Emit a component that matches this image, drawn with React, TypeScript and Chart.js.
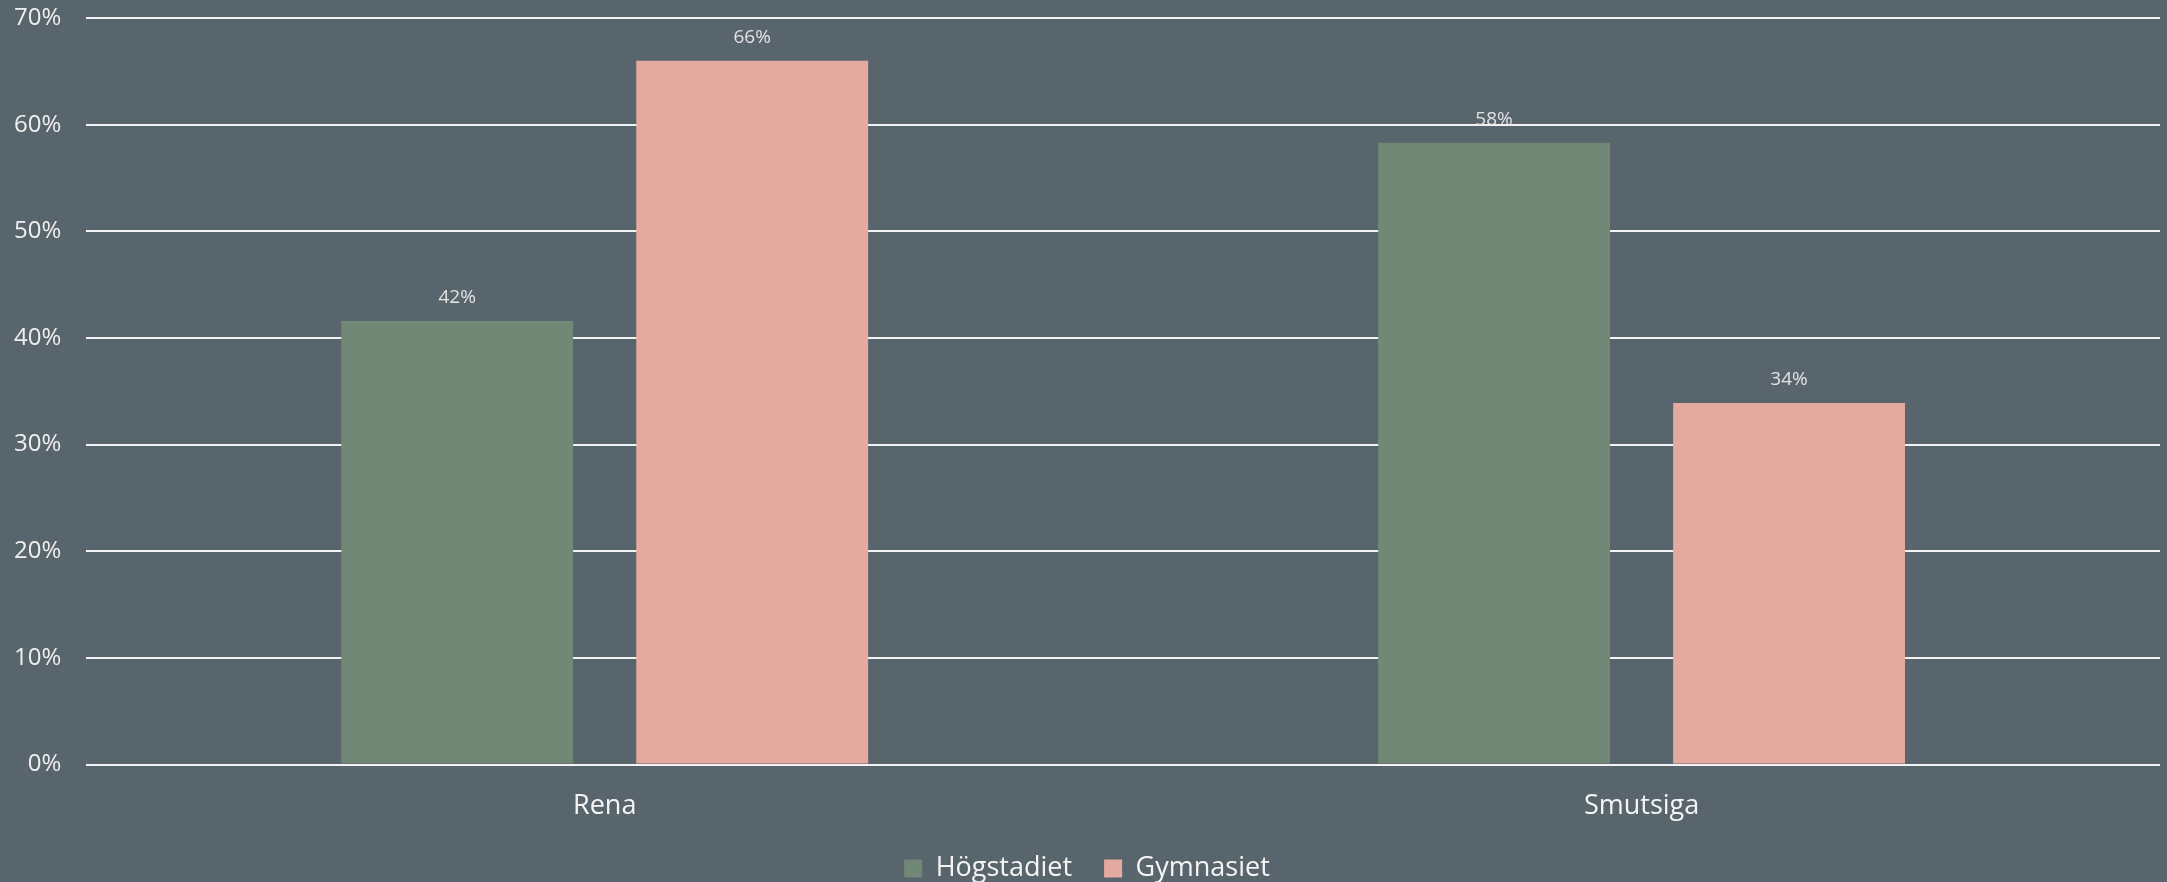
import React, { useEffect, useRef } from 'react';
import { Chart, registerables } from 'chart.js';

Chart.register(...registerables);

const categories = ['Rena', 'Smutsiga'];
const seriesNames = ['Högstadiet', 'Gymnasiet'];
const hogstadiet = [41.6, 58.3];
const gymnasiet = [66.0, 33.9];
const yMin = 0;
const yMax = 70;
const yStep = 10;

const BG = '#59656d';
const GREEN = '#718877';
const PINK = '#e4aa9f';
const FONT = "'Open Sans', sans-serif";

const dataLabelPlugin = {
  id: 'dataLabels',
  afterDatasetsDraw(chart: any) {
    const ctx = chart.ctx;
    ctx.save();
    ctx.font = `19px ${FONT}`;
    ctx.fillStyle = '#e3e3e3';
    ctx.textAlign = 'center';
    ctx.textBaseline = 'alphabetic';
    chart.data.datasets.forEach((ds: any, i: number) => {
      const meta = chart.getDatasetMeta(i);
      meta.data.forEach((bar: any, j: number) => {
        const v = ds.data[j];
        ctx.fillText(`${Math.round(v)}%`, bar.x, bar.y - 18);
      });
    });
    ctx.restore();
  },
};

export default function App() {
  const ref = useRef<HTMLCanvasElement | null>(null);

  useEffect(() => {
    if (!ref.current) return;
    const chart = new Chart(ref.current, {
      type: 'bar',
      data: {
        labels: categories,
        datasets: [
          {
            label: seriesNames[0],
            data: hogstadiet,
            backgroundColor: GREEN,
            borderWidth: 0,
            categoryPercentage: 0.569,
            barPercentage: 0.786,
          },
          {
            label: seriesNames[1],
            data: gymnasiet,
            backgroundColor: PINK,
            borderWidth: 0,
            categoryPercentage: 0.569,
            barPercentage: 0.786,
          },
        ],
      },
      options: {
        animation: false,
        responsive: false,
        maintainAspectRatio: false,
        layout: { padding: { top: 18, left: 14, right: 7, bottom: 0 } },
        plugins: {
          legend: {
            position: 'bottom',
            labels: {
              color: '#f5f5f5',
              font: { family: FONT, size: 27 },
              boxWidth: 18,
              boxHeight: 18,
              padding: 32,
            },
          },
          tooltip: { enabled: false },
        },
        scales: {
          x: {
            grid: {
              display: true,
              drawOnChartArea: false,
              drawTicks: true,
              tickLength: 26,
              color: 'rgba(0,0,0,0)',
              tickColor: 'rgba(0,0,0,0)',
            },
            border: { display: false },
            ticks: {
              color: '#f5f5f5',
              font: { family: FONT, size: 27 },
              padding: 0,
            },
          },
          y: {
            min: yMin,
            max: yMax,
            grid: {
              color: '#f4f4f4',
              lineWidth: 2,
              drawTicks: true,
              tickLength: 25,
              tickColor: 'rgba(0,0,0,0)',
            },
            border: { display: false },
            ticks: {
              stepSize: yStep,
              color: '#f0f0f0',
              font: { family: FONT, size: 24 },
              padding: 0,
              callback: (v: any) => `${v}%`,
            },
          },
        },
      },
      plugins: [dataLabelPlugin],
    });
    return () => chart.destroy();
  }, []);

  return (
    <div
      style={{
        position: 'fixed',
        left: 0,
        top: 0,
        width: 2167,
        height: 882,
        overflow: 'hidden',
        background: BG,
      }}
    >
      <canvas ref={ref} width={2167} height={892} style={{ display: 'block' }} />
    </div>
  );
}
